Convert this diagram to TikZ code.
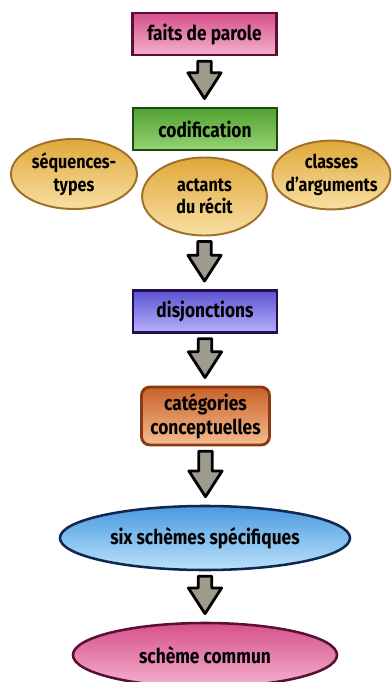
\documentclass[tikz,border=0pt]{standalone}
\usepackage{fontspec}
\setmainfont{Fira Sans}[FakeStretch=0.85]
\usepackage{xcolor}
\usetikzlibrary{positioning, shapes, calc}

\definecolor{pinktop}{HTML}{D6508A}
\definecolor{pinkbot}{HTML}{F4B2CE}
\definecolor{pinkline}{HTML}{5A1034}
\definecolor{greentop}{HTML}{52A232}
\definecolor{greenbot}{HTML}{96D274}
\definecolor{greenline}{HTML}{1E4A12}
\definecolor{goldtop}{HTML}{E0A83A}
\definecolor{goldbot}{HTML}{F8E0A2}
\definecolor{goldline}{HTML}{A0702A}
\definecolor{violettop}{HTML}{5C52D2}
\definecolor{violetbot}{HTML}{B6B2FA}
\definecolor{violetline}{HTML}{201050}
\definecolor{orangetop}{HTML}{C8622A}
\definecolor{orangebot}{HTML}{F6BC8E}
\definecolor{orangeline}{HTML}{8A3A12}
\definecolor{bluetop}{HTML}{4A9AE0}
\definecolor{bluebot}{HTML}{BAE2FA}
\definecolor{blueline}{HTML}{102850}
\definecolor{arrowgray}{HTML}{9E9A8C}

\tikzset{
  label text/.style={font=\fontsize{14.5}{17}\selectfont\bfseries, align=center, text=black},
  flatbox/.style={label text, draw, rectangle, line width=2pt, minimum width=3.6cm, minimum height=1.05cm},
  blob/.style={label text, draw, ellipse, line width=1.4pt, inner sep=0pt},
  goldblob/.style={blob, draw=goldline, top color=goldtop, bottom color=goldbot, font=\fontsize{13.5}{16}\selectfont\bfseries},
  bigarrow/.style={draw=black, fill=arrowgray, line width=2pt, line join=round}
}

\begin{document}
\begin{tikzpicture}[x=0.025cm, y=-0.025cm]
      \useasboundingbox (0,0) rectangle (391,682);
      \clip (0,0) rectangle (391,682);

      % Top box
      \node[flatbox, draw=pinkline, top color=pinktop, bottom color=pinkbot] (parole) at (204.5,34) {faits de parole};

      % Codification
      \node[flatbox, draw=greenline, top color=greentop, bottom color=greenbot] (codif) at (205,129) {codification};

      % The three ellipses
      \node[goldblob, minimum width=3.15cm, minimum height=1.75cm] (seq) at (74,174) {séquences-\\types};
      \node[goldblob, inner xsep=-6pt, minimum width=2.95cm, minimum height=1.72cm] (classes) at (331.5,175) {classes\\d’arguments};
      \node[goldblob, minimum width=3.12cm, minimum height=1.95cm] (actants) at (204.5,196.5) {actants\\du récit};

      % Disjonctions
      \node[flatbox, draw=violetline, top color=violettop, bottom color=violetbot] (disj) at (205,311.5) {disjonctions};

      % Categories
      \node[flatbox, draw=orangeline, top color=orangetop, bottom color=orangebot, rounded corners=6pt, minimum width=3.2cm, minimum height=1.45cm] (categ) at (205.5,416) {catégories\\conceptuelles};

      % Schemes
      \node[blob, draw=blueline, top color=bluetop, bottom color=bluebot, line width=1.8pt, minimum width=7.25cm, minimum height=1.6cm] (six) at (205,538) {six schèmes spécifiques};
      \node[blob, draw=pinkline, top color=pinktop, bottom color=pinkbot, line width=1.8pt, minimum width=6.6cm, minimum height=1.6cm] (commun) at (205,655) {schème commun};

      % Arrows
      \foreach \a/\b in {parole/codif, actants/disj, disj/categ, categ/six, six/commun} {
        \draw[bigarrow] let \p1=(\a.south), \p2=(\b.north) in
          (\x1-4.8pt,\y1-3.5pt) -- (\x1+4.8pt,\y1-3.5pt) -- (\x1+4.8pt,\y2+24pt)
          -- (\x1+11.8pt,\y2+24pt) -- (\x1,\y2+5.7pt) -- (\x1-11.8pt,\y2+24pt)
          -- (\x1-4.8pt,\y2+24pt) -- cycle;
      }
    \end{tikzpicture}
\end{document}
